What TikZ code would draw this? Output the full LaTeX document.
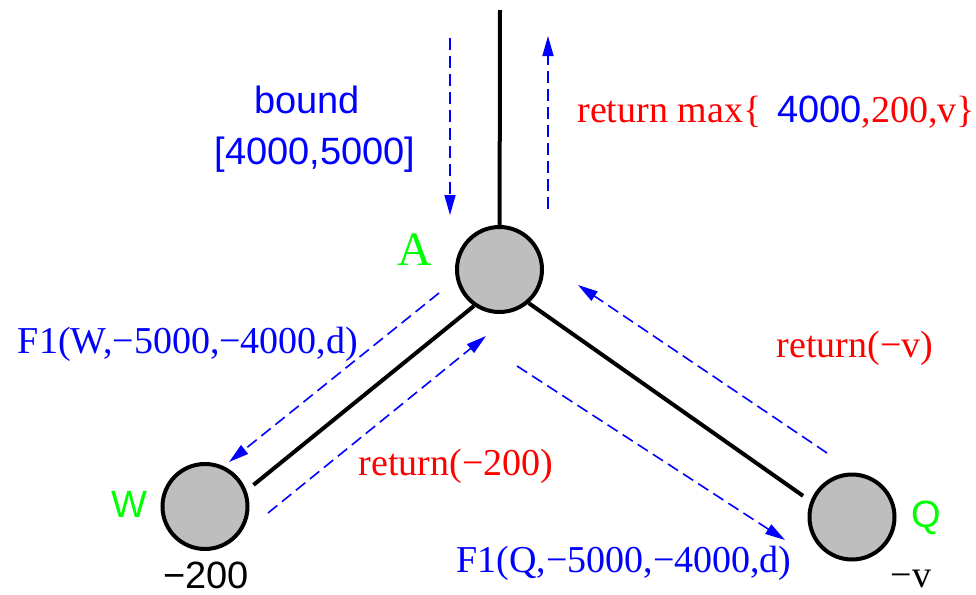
\documentclass[tikz,border=0pt]{standalone}
\usepackage{fontspec}
\setmainfont{Liberation Serif}
\setsansfont{Liberation Sans}
\usetikzlibrary{arrows.meta}
\definecolor{nodegray}{HTML}{BEBEBE}
\definecolor{pureblue}{HTML}{0000FF}
\definecolor{purered}{HTML}{FF0000}
\definecolor{puregreen}{HTML}{00FF00}

\begin{document}
\begin{tikzpicture}[x=0.5pt, y=-0.5pt,
    vertex/.style={circle, draw=black, line width=2pt, fill=nodegray,
                   minimum size=42.5pt, inner sep=0pt},
    edge/.style={line width=2pt},
    msg/.style={pureblue, line width=0.8pt, dash pattern=on 6pt off 3pt,
                -{Triangle[length=10pt, width=5.5pt]}},
    lbl/.style={inner sep=0pt, anchor=base, font=\fontsize{19}{22}\selectfont},
    sflbl/.style={lbl, font=\fontsize{19}{22}\selectfont\sffamily}]
  \useasboundingbox (0,0) rectangle (976,595);

  % tree
  \node[vertex] (A) at (499.5,269.5) {};
  \node[vertex] (W) at (205,506.5) {};
  \node[vertex] (Q) at (852,517) {};
  \coordinate (top) at (500,10);
  \draw[edge] (top) -- (A);
  \draw[edge, shorten >=4.5pt] (A.235) -- (W.21);
  \draw[edge, shorten >=4.5pt] (A.311) -- (Q.159);

  % messages
  \coordinate (downS) at (450,38);   \coordinate (downE) at (450,215);
  \coordinate (upS) at (548,209);    \coordinate (upE) at (548,36);
  \coordinate (callWS) at (439,293); \coordinate (callWE) at (229,462);
  \coordinate (retWS) at (268,513);  \coordinate (retWE) at (486,336);
  \coordinate (callQS) at (517,366); \coordinate (callQE) at (785,540);
  \coordinate (retQS) at (827,453);  \coordinate (retQE) at (578,285);
  \draw[msg] (downS) -- (downE);
  \draw[msg] (upS) -- (upE);
  \draw[msg] (callWS) -- (callWE);
  \draw[msg] (retWS) -- (retWE);
  \draw[msg] (callQS) -- (callQE);
  \draw[msg] (retQS) -- (retQE);

  % labels
  \node[sflbl, pureblue] (bound) at (307,113) {bound};
  \node[sflbl, pureblue] (range) at (315,164) {[4000,5000]};
  \node[lbl, anchor=base west, purered] (retmax) at (577,122)
    {return max\{\hspace{8pt}{\sffamily\color{pureblue}4000},200,v\}};
  \node[lbl, puregreen, font=\fontsize{24}{28}\selectfont] (nameA) at (415,265) {A};
  \node[sflbl, puregreen] (nameW) at (129,517) {W};
  \node[sflbl, puregreen] (nameQ) at (926,527) {Q};
  \node[sflbl] (valW) at (206,588) {−200};
  \node[lbl] (valQ) at (911,587) {−v};
  \node[lbl, pureblue] (callW) at (188,353) {F1(W,−5000,−4000,d)};
  \node[lbl, purered] (retW) at (456,475) {return(−200)};
  \node[lbl, purered] (retQ) at (855,357) {return(−v)};
  \node[lbl, pureblue] (callQ) at (624,572) {F1(Q,−5000,−4000,d)};
\end{tikzpicture}
\end{document}
